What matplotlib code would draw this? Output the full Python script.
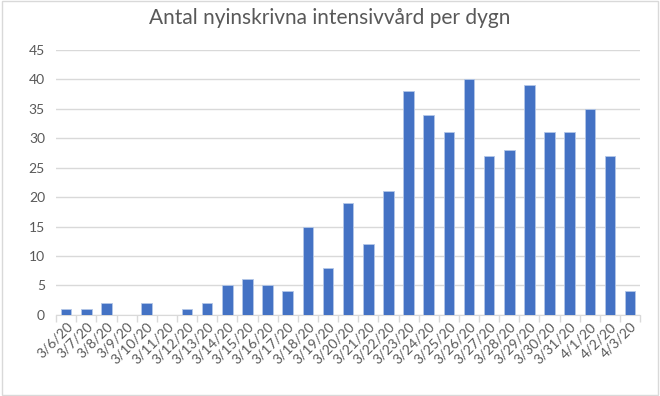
import matplotlib
matplotlib.use("Agg")
import matplotlib.pyplot as plt
import numpy as np

plt.rcParams['font.family'] = ['Lato', 'DejaVu Sans']

dates = ["3/6/20", "3/7/20", "3/8/20", "3/9/20", "3/10/20", "3/11/20", "3/12/20",
         "3/13/20", "3/14/20", "3/15/20", "3/16/20", "3/17/20", "3/18/20", "3/19/20",
         "3/20/20", "3/21/20", "3/22/20", "3/23/20", "3/24/20", "3/25/20", "3/26/20",
         "3/27/20", "3/28/20", "3/29/20", "3/30/20", "3/31/20", "4/1/20", "4/2/20", "4/3/20"]
counts = [1, 1, 2, 0, 2, 0, 1, 2, 5, 6, 5, 4, 15, 8, 19, 12, 21, 38, 34, 31, 40,
          27, 28, 39, 31, 31, 35, 27, 4]

fig = plt.figure(figsize=(6.6, 3.96), dpi=100)
ax = fig.add_axes([0.085, 0.205, 0.885, 0.669])

x = np.arange(len(dates))
ax.bar(x, counts, width=0.52, color="#4472C4", edgecolor="#B4C7E7", linewidth=0.6, zorder=3)

ax.set_xlim(-0.5, len(dates) - 0.5)
ax.set_ylim(0, 45)
ax.set_yticks(range(0, 46, 5))
ax.yaxis.grid(True, color="#D9D9D9", linewidth=1, zorder=0)
ax.tick_params(axis='y', length=0, labelsize=10, labelcolor="#595959", pad=8)

ax.set_xticks(x)
ax.set_xticklabels(dates, rotation=45, ha='right', rotation_mode='anchor',
                   fontsize=10, color="#595959")
ax.tick_params(axis='x', length=0, pad=4)
ax.set_xticks(np.arange(-0.5, len(dates), 1), minor=True)
ax.tick_params(axis='x', which='minor', length=5, color="#D9D9D9", width=1)

for s in ['top', 'right', 'left']:
    ax.spines[s].set_visible(False)
ax.spines['bottom'].set_color("#D9D9D9")

fig.text(0.5, 0.955, "Antal nyinskrivna intensivvård per dygn", ha='center', va='center',
         fontsize=15, color="#595959")

border = plt.Rectangle((0.003, 0.003), 0.994, 0.994, transform=fig.transFigure,
                       fill=False, edgecolor="#D9D9D9", linewidth=1)
fig.patches.append(border)

fig.savefig("out.png", dpi=100)
